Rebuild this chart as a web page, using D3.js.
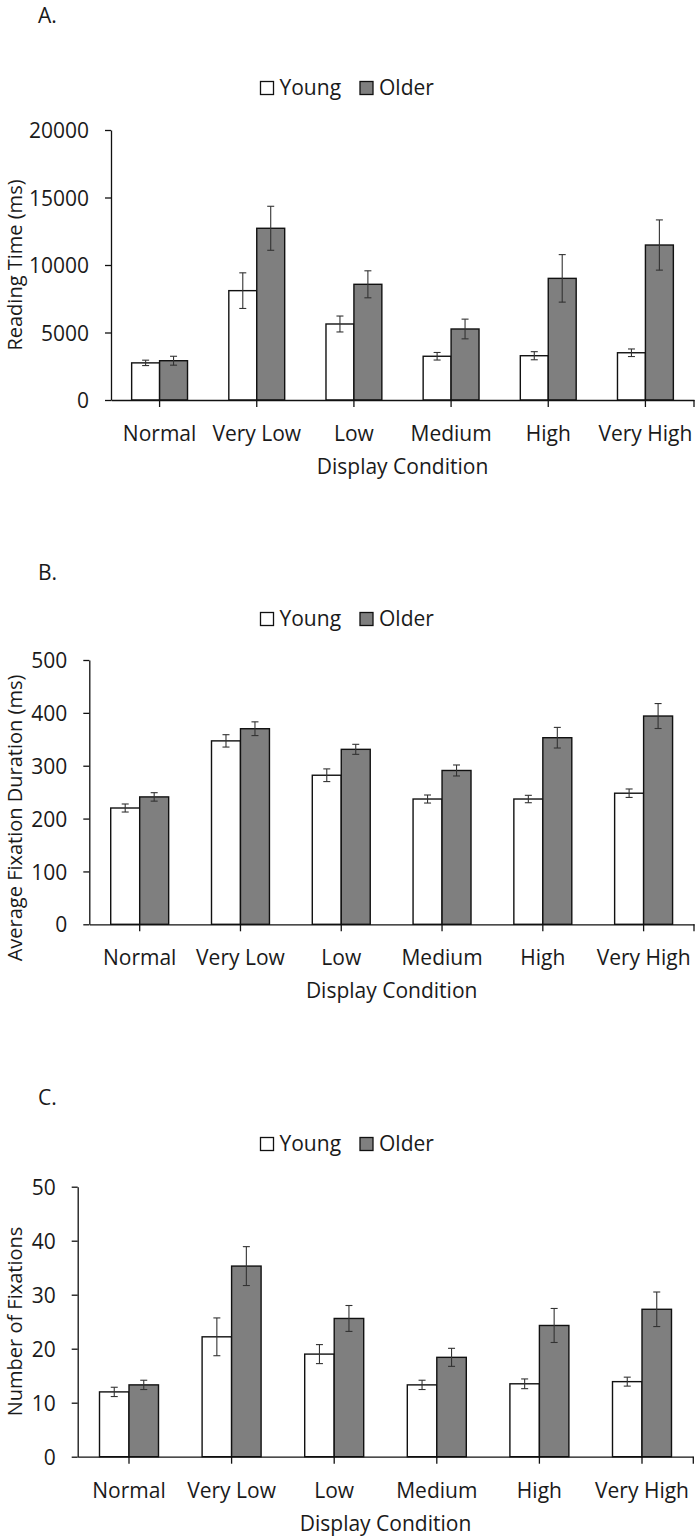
<!DOCTYPE html>
<html>
<head>
<meta charset="utf-8">
<script src="https://cdn.jsdelivr.net/npm/d3@7/dist/d3.min.js"></script>
<style>
  html, body { margin: 0; padding: 0; background: #fff; }
  svg { display: block; }
  text { font-family: "Open Sans", sans-serif; fill: #1a1a1a; }
</style>
</head>
<body>
<svg id="chart" width="696" height="1536"></svg>
<script>
// ---------- data ----------
const categories = ["Normal", "Very Low", "Low", "Medium", "High", "Very High"];
const seriesNames = ["Young", "Older"];

const readingYoung    = [2750, 8100, 5630, 3240, 3280, 3500];
const readingYoungErr = [200, 1320, 590, 280, 300, 280];
const readingOlder    = [2910, 12720, 8570, 5260, 9010, 11480];
const readingOlderErr = [330, 1630, 1000, 730, 1760, 1860];
const readingTicks    = [0, 5000, 10000, 15000, 20000];

const fixDurYoung     = [220, 347, 282, 237, 237, 248];
const fixDurYoungErr  = [7.6, 11.7, 12, 7.6, 7, 8];
const fixDurOlder     = [241, 370, 331, 291, 353, 394];
const fixDurOlderErr  = [8, 13, 9.5, 10.4, 19.5, 23.6];
const fixDurTicks     = [0, 100, 200, 300, 400, 500];

const numFixYoung     = [12.0, 22.2, 19.0, 13.3, 13.5, 13.9];
const numFixYoungErr  = [0.86, 3.5, 1.76, 0.86, 0.9, 0.83];
const numFixOlder     = [13.3, 35.3, 25.6, 18.4, 24.3, 27.3];
const numFixOlderErr  = [0.86, 3.6, 2.4, 1.67, 3.15, 3.2];
const numFixTicks     = [0, 10, 20, 30, 40, 50];

const xTitle = "Display Condition";

// ---------- layout (positions/styles) ----------
const panels = [
  { label: "A.", labelY: 23, yTitle: "Reading Time (ms)", yTitleCenter: 265,
    x0: 111, x1: 694, yTop: 130, yBot: 400, legendY: 95,
    young: readingYoung, youngErr: readingYoungErr, older: readingOlder, olderErr: readingOlderErr, ticks: readingTicks },
  { label: "B.", labelY: 579.5, yTitle: "Average Fixation Duration (ms)", yTitleCenter: 818,
    x0: 89.3, x1: 694, yTop: 660, yBot: 924.3, legendY: 626,
    young: fixDurYoung, youngErr: fixDurYoungErr, older: fixDurOlder, olderErr: fixDurOlderErr, ticks: fixDurTicks },
  { label: "C.", labelY: 1104.5, yTitle: "Number of Fixations", yTitleCenter: 1321.5,
    x0: 77.7, x1: 693.3, yTop: 1186.7, yBot: 1456.7, legendY: 1151,
    young: numFixYoung, youngErr: numFixYoungErr, older: numFixOlder, olderErr: numFixOlderErr, ticks: numFixTicks }
];

const fills = { Young: "#ffffff", Older: "#7f7f7f" };
const FONT = 21;
const YTITLE_FONT = 20;
const svg = d3.select("#chart");

panels.forEach(p => {
  const g = svg.append("g");

  const x = d3.scaleBand().domain(categories).range([p.x0, p.x1])
    .paddingInner(0.425).paddingOuter(0.2125);
  const xs = d3.scaleBand().domain(seriesNames).range([0, x.bandwidth()]).padding(0);
  const y = d3.scaleLinear().domain([0, d3.max(p.ticks)]).range([p.yBot, p.yTop]);

  const rows = categories.map((c, i) => ({
    cat: c,
    vals: [
      { s: "Young", v: p.young[i], e: p.youngErr[i] },
      { s: "Older", v: p.older[i], e: p.olderErr[i] }
    ]
  }));

  // bars
  const groups = g.selectAll("g.cat").data(rows).join("g")
    .attr("transform", d => `translate(${x(d.cat)},0)`);
  groups.selectAll("rect").data(d => d.vals).join("rect")
    .attr("x", d => xs(d.s))
    .attr("width", xs.bandwidth())
    .attr("y", d => y(d.v))
    .attr("height", d => y(0) - y(d.v))
    .attr("fill", d => fills[d.s])
    .attr("stroke", "#111")
    .attr("stroke-width", 1.4);

  // error bars
  const eb = groups.selectAll("g.err").data(d => d.vals).join("g").attr("class", "err")
    .attr("stroke", "#333").attr("stroke-width", 1.1);
  eb.append("line")
    .attr("x1", d => xs(d.s) + xs.bandwidth() / 2).attr("x2", d => xs(d.s) + xs.bandwidth() / 2)
    .attr("y1", d => y(d.v + d.e)).attr("y2", d => y(d.v - d.e));
  eb.append("line")
    .attr("x1", d => xs(d.s) + xs.bandwidth() / 2 - 3.5).attr("x2", d => xs(d.s) + xs.bandwidth() / 2 + 3.5)
    .attr("y1", d => y(d.v + d.e)).attr("y2", d => y(d.v + d.e));
  eb.append("line")
    .attr("x1", d => xs(d.s) + xs.bandwidth() / 2 - 3.5).attr("x2", d => xs(d.s) + xs.bandwidth() / 2 + 3.5)
    .attr("y1", d => y(d.v - d.e)).attr("y2", d => y(d.v - d.e));

  // y axis
  const ya = g.append("g").attr("transform", `translate(${p.x0},0)`)
    .call(d3.axisLeft(y).tickValues(p.ticks).tickSize(6).tickSizeOuter(0).tickPadding(16).tickFormat(d3.format("d")));
  ya.select(".domain").attr("stroke", "#111").attr("stroke-width", 1.3);
  ya.selectAll(".tick line").attr("stroke", "#111").attr("stroke-width", 1.3);
  ya.selectAll(".tick text").attr("font-size", FONT).attr("font-family", "Open Sans").attr("fill", "#1a1a1a")
    .attr("dy", "0.36em");

  // x axis
  const xa = g.append("g").attr("transform", `translate(0,${p.yBot})`)
    .call(d3.axisBottom(x).tickSize(7).tickSizeOuter(0).tickPadding(19));
  xa.select(".domain").attr("stroke", "#111").attr("stroke-width", 1.3);
  xa.selectAll(".tick line").attr("stroke", "#111").attr("stroke-width", 1.3);
  xa.selectAll(".tick text").attr("font-size", FONT).attr("font-family", "Open Sans").attr("fill", "#1a1a1a");
  xa.append("line").attr("x1", p.x1).attr("x2", p.x1).attr("y1", 0).attr("y2", 7)
    .attr("stroke", "#111").attr("stroke-width", 1.3);

  // x title
  g.append("text").attr("x", (p.x0 + p.x1) / 2).attr("y", p.yBot + 74)
    .attr("text-anchor", "middle").attr("font-size", FONT).text(xTitle);

  // y title
  g.append("text").attr("transform", `translate(21.6,${p.yTitleCenter}) rotate(-90)`)
    .attr("text-anchor", "middle").attr("font-size", YTITLE_FONT).text(p.yTitle);

  // panel label
  g.append("text").attr("x", 38).attr("y", p.labelY).attr("font-size", FONT).text(p.label);

  // legend
  const legendX = { Young: 260.5, Older: 360 };
  seriesNames.forEach(s => {
    g.append("rect").attr("x", legendX[s]).attr("y", p.legendY - 13.5)
      .attr("width", 13).attr("height", 13)
      .attr("fill", fills[s]).attr("stroke", "#111").attr("stroke-width", 1.3);
    g.append("text").attr("x", legendX[s] + 19).attr("y", p.legendY)
      .attr("font-size", FONT).text(s);
  });
});
</script>
</body>
</html>
